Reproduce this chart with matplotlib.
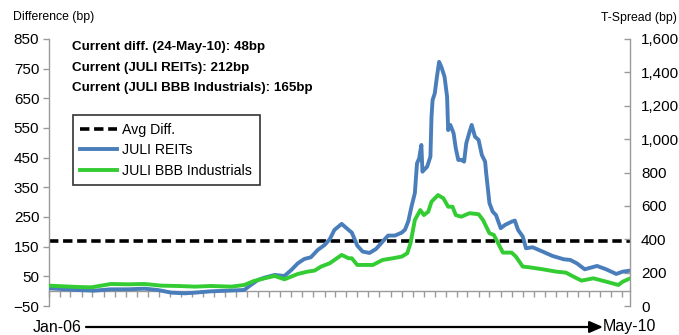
import matplotlib
matplotlib.use("Agg")
import matplotlib.pyplot as plt
import matplotlib.dates as mdates
import matplotlib.ticker as mticker
import pandas as pd

plt.rcParams["font.family"] = ["Liberation Sans", "DejaVu Sans"]

# T-spread series (bp)
reit_dates = [
    "2006-01-02", "2006-03-20", "2006-05-06", "2006-06-21", "2006-08-07", "2006-09-22",
    "2006-10-28", "2006-12-05", "2007-01-11", "2007-02-08", "2007-03-24", "2007-05-09",
    "2007-06-24", "2007-07-12", "2007-08-01", "2007-08-19", "2007-09-16", "2007-10-13",
    "2007-11-01", "2007-11-19", "2007-12-07", "2007-12-25", "2008-01-13", "2008-02-01",
    "2008-02-15", "2008-02-28", "2008-03-19", "2008-04-07", "2008-04-16", "2008-05-01",
    "2008-05-16", "2008-06-04", "2008-06-22", "2008-07-10", "2008-07-25", "2008-08-13",
    "2008-09-01", "2008-09-10", "2008-09-19", "2008-09-28", "2008-10-07", "2008-10-13",
    "2008-10-19", "2008-10-25", "2008-10-28", "2008-11-10", "2008-11-19", "2008-11-22",
    "2008-11-25", "2008-12-01", "2008-12-07", "2008-12-13", "2008-12-19", "2008-12-28",
    "2009-01-04", "2009-01-07", "2009-01-13", "2009-01-22", "2009-01-28", "2009-02-04",
    "2009-02-12", "2009-02-20", "2009-02-26", "2009-03-07", "2009-03-13", "2009-03-22",
    "2009-04-01", "2009-04-10", "2009-04-19", "2009-04-22", "2009-05-01", "2009-05-10",
    "2009-05-19", "2009-06-01", "2009-06-13", "2009-07-01", "2009-07-10", "2009-07-19",
    "2009-08-01", "2009-08-10", "2009-08-28", "2009-09-25", "2009-10-22", "2009-11-22",
    "2009-12-10", "2009-12-28", "2010-01-19", "2010-02-22", "2010-03-19", "2010-04-16",
    "2010-05-04", "2010-05-24",
]
reit_spread = [
    106, 96, 92, 100, 100, 104,
    96, 80, 76, 80, 88, 92,
    96, 126, 156, 170, 186, 180,
    216, 256, 282, 292, 336, 366,
    400, 456, 492, 456, 440, 362,
    326, 318, 342, 386, 422, 422,
    440, 458, 508, 598, 676, 855,
    885, 965, 805, 835, 895, 1134,
    1234, 1274, 1374, 1463, 1434, 1374,
    1254, 1054, 1085, 1035, 945, 875,
    876, 865, 975, 1044, 1085, 1015,
    995, 905, 865, 795, 616, 565,
    545, 466, 486, 505, 512, 456,
    416, 346, 352, 326, 300, 280,
    276, 256, 220, 240, 220, 192,
    206, 212,
]

bbb_dates = [
    "2006-01-02", "2006-03-20", "2006-04-28", "2006-06-21", "2006-08-07", "2006-09-22",
    "2006-11-07", "2006-12-22", "2007-02-08", "2007-03-24", "2007-05-19", "2007-06-24",
    "2007-07-21", "2007-08-19", "2007-09-16", "2007-10-13", "2007-11-19", "2007-12-16",
    "2008-01-04", "2008-01-22", "2008-02-15", "2008-03-19", "2008-04-07", "2008-04-16",
    "2008-05-01", "2008-05-25", "2008-06-13", "2008-07-10", "2008-08-07", "2008-09-01",
    "2008-09-16", "2008-09-25", "2008-10-07", "2008-10-22", "2008-11-01", "2008-11-13",
    "2008-11-22", "2008-12-10", "2008-12-25", "2009-01-07", "2009-01-19", "2009-01-28",
    "2009-02-12", "2009-03-07", "2009-04-01", "2009-04-13", "2009-05-01", "2009-05-13",
    "2009-05-25", "2009-06-07", "2009-07-01", "2009-07-13", "2009-08-01", "2009-08-19",
    "2009-09-25", "2009-11-01", "2009-11-28", "2009-12-19", "2010-01-10", "2010-02-12",
    "2010-03-19", "2010-04-22", "2010-05-04", "2010-05-24",
]
bbb_spread = [
    122, 114, 112, 132, 130, 132,
    122, 120, 116, 120, 116, 126,
    150, 166, 180, 160, 192, 206,
    212, 236, 256, 306, 286, 286,
    246, 246, 246, 276, 286, 296,
    316, 376, 515, 575, 545, 565,
    625, 665, 645, 595, 595, 545,
    535, 556, 550, 516, 436, 426,
    376, 320, 320, 296, 236, 232,
    220, 206, 200, 176, 152, 166,
    146, 126, 146, 165,
]

avg_diff = 168
left_ticks = list(range(-50, 851, 100))
right_ticks = list(range(0, 1601, 200))
notes = [
    "Current diff. (24-May-10): 48bp",
    "Current (JULI REITs): 212bp",
    "Current (JULI BBB Industrials): 165bp",
]

BLUE = "#4a7ebb"
GREEN = "#33cc33"
GREY = "#9a9a9a"

fig = plt.figure(figsize=(6.79, 3.35), dpi=100)
ax = fig.add_axes([49 / 679, 1 - 306 / 335, 581 / 679, 267 / 335])
ax2 = ax.twinx()

x_start = pd.Timestamp("2006-01-01")
x_end = pd.Timestamp("2010-05-24")

# left axis: difference
dash = ax.axhline(avg_diff, color="black", lw=2.6, ls=(0, (2.6, 1.3)), label="Avg Diff.")
ax.set_ylim(-50, 850)
ax.set_yticks(left_ticks)
ax.set_xlim(x_start, x_end)

# right axis: T-spreads
r_line, = ax2.plot(pd.to_datetime(reit_dates), reit_spread, color=BLUE, lw=2.8, label="JULI REITs")
b_line, = ax2.plot(pd.to_datetime(bbb_dates), bbb_spread, color=GREEN, lw=2.8, label="JULI BBB Industrials")
ax2.set_ylim(0, 1600)
ax2.set_yticks(right_ticks)
ax2.yaxis.set_major_formatter(mticker.FuncFormatter(lambda v, p: f"{int(v):,}"))
ax2.set_xlim(x_start, x_end)

for a in (ax, ax2):
    a.spines["top"].set_visible(False)
    for s in a.spines.values():
        s.set_color(GREY)
        s.set_linewidth(1.0)
ax.spines["right"].set_visible(False)
ax.spines["bottom"].set_position(("data", 0))
ax2.spines["left"].set_visible(False)
ax2.spines["bottom"].set_visible(False)

ax.xaxis.set_major_locator(mdates.MonthLocator())
ax.xaxis.set_major_formatter(mticker.NullFormatter())
ax.tick_params(axis="x", direction="out", length=4, color=GREY, width=1)
ax.tick_params(axis="y", direction="out", length=4, color=GREY, width=1,
               labelsize=11, pad=3)
ax2.tick_params(axis="y", direction="in", length=4, color=GREY, width=1,
                labelsize=11, pad=8)
ax2.tick_params(axis="x", bottom=False, labelbottom=False)

# axis titles
fig.text(13 / 679, 1 - 17 / 335, "Difference (bp)", fontsize=8.8, va="center", ha="left")
fig.text(677 / 679, 1 - 18 / 335, "T-Spread (bp)", fontsize=8.8, va="center", ha="right")

# current values
for i, t in enumerate(notes):
    fig.text(72 / 679, 1 - (47 + 20.7 * i) / 335, t, fontsize=9.6,
             fontweight="bold", va="center", ha="left")

leg = ax2.legend([dash, r_line, b_line], ["Avg Diff.", "JULI REITs", "JULI BBB Industrials"],
                 loc="upper left", bbox_to_anchor=(72.7 / 679, 1 - 115 / 335),
                 bbox_transform=fig.transFigure, fontsize=10.2, frameon=True,
                 fancybox=False, borderaxespad=0, handlelength=2.6,
                 handletextpad=0.35, labelspacing=0.45, borderpad=0.55)
leg.get_frame().set_edgecolor("black")
leg.get_frame().set_linewidth(1.2)

# date span arrow under the chart
y_arr = 1 - 327 / 335
fig.text(82 / 679, y_arr, "Jan-06", fontsize=11.5, ha="right", va="center")
fig.text(603 / 679, y_arr, "May-10", fontsize=11.5, ha="left", va="center")
fig.patches.append(matplotlib.patches.FancyArrowPatch(
    (86 / 679, y_arr), (603 / 679, y_arr), transform=fig.transFigure,
    arrowstyle="-|>,head_length=8,head_width=3.5", color="black", lw=1.6,
    shrinkA=0, shrinkB=0))

fig.savefig("out.png", dpi=100)
